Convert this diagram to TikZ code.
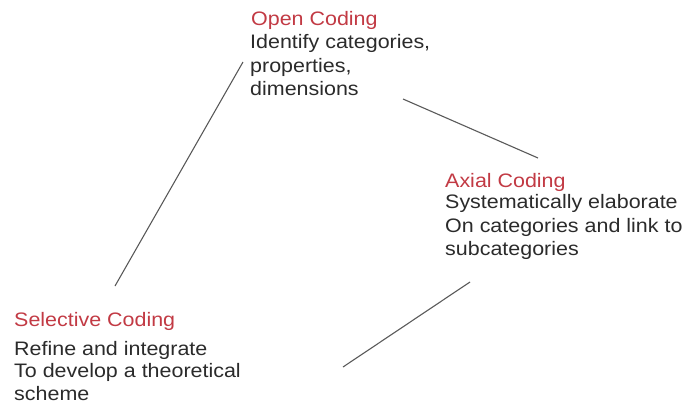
\documentclass[tikz,border=0pt]{standalone}
\usepackage{fontspec}
\setmainfont[FakeStretch=1.1]{Liberation Sans}
\definecolor{titlered}{HTML}{C23A44}
\definecolor{bodygray}{HTML}{2B2B2B}
\definecolor{linegray}{HTML}{5A5A5A}
\begin{document}
\begin{tikzpicture}[x=1pt,y=-1pt,
  txt/.style={anchor=base west,inner sep=0pt,font=\fontsize{19.5}{23}\selectfont},
  ttl/.style={txt,text=titlered},
  bdy/.style={txt,text=bodygray},
  conn/.style={draw=linegray,line width=1.1pt}]
\useasboundingbox[fill=white] (0,0) rectangle (693,405);
% Open Coding
\node[ttl] (o0) at (251,25) {Open Coding};
\node[bdy] (o1) at (250,48) {Identify categories,};
\node[bdy] (o2) at (250,72) {properties,};
\node[bdy] (o3) at (250,95) {dimensions};
% Axial Coding
\node[ttl] (a0) at (445,187) {Axial Coding};
\node[bdy] (a1) at (445,208) {Systematically elaborate};
\node[bdy] (a2) at (445,232) {On categories and link to};
\node[bdy] (a3) at (445,255) {subcategories};
% Selective Coding
\node[ttl] (s0) at (14,326) {Selective Coding};
\node[bdy] (s1) at (14,355) {Refine and integrate};
\node[bdy] (s2) at (14,377) {To develop a theoretical};
\node[bdy] (s3) at (14,400) {scheme};
% connector ends
\coordinate (c1a) at (243,62);
\coordinate (c1b) at (115,286);
\coordinate (c2a) at (403,99);
\coordinate (c2b) at (538,158);
\coordinate (c3a) at (470,282);
\coordinate (c3b) at (343,367);
\draw[conn] (c1a) -- (c1b);
\draw[conn] (c2a) -- (c2b);
\draw[conn] (c3a) -- (c3b);
\end{tikzpicture}
\end{document}
